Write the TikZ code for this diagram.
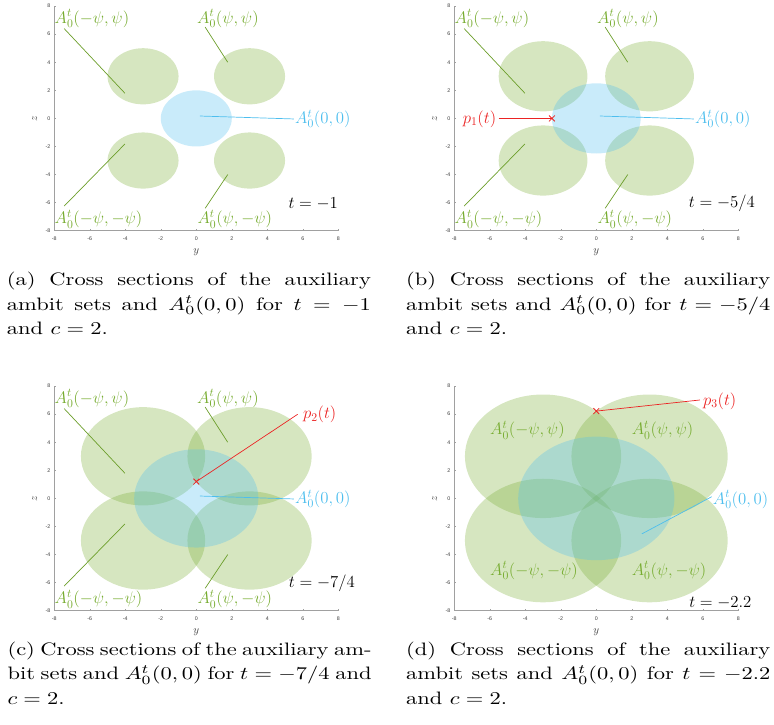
\RequirePackage{fix-cm}
\documentclass[tikz,border=0pt]{standalone}
\usepackage{fontspec}
\usepackage{graphicx}
\usetikzlibrary{shapes.misc}
\newfontfamily\ticksf{Liberation Sans}
\definecolor{mgreen}{RGB}{119,172,48}
\definecolor{mgline}{RGB}{108,158,42}
\definecolor{mblue}{RGB}{77,190,238}
\definecolor{mred}{RGB}{235,35,35}
\definecolor{axgrey}{RGB}{160,160,160}
\definecolor{ticktxt}{RGB}{60,60,60}
\tikzset{
  gfill/.style={fill=mgreen, fill opacity=0.3, draw=none},
  bfill/.style={fill=mblue, fill opacity=0.3, draw=none},
  labfont/.style={inner sep=0pt, anchor=base west, font=\fontsize{16.8}{18}\selectfont},
  glab/.style={labfont, text=mgreen},
  blab/.style={labfont, text=mblue},
  rlab/.style={labfont, text=mred},
  tlab/.style={labfont, text=black, anchor=base east},
  gline/.style={draw=mgline, line width=0.7pt},
  bline/.style={draw=mblue, line width=0.7pt},
  rline/.style={draw=mred, line width=0.7pt},
  xmark/.style={cross out, draw=mred, line width=0.8pt, minimum size=5pt, inner sep=0pt},
  axisline/.style={draw=axgrey, line width=0.6pt},
  ticklab/.style={inner sep=0pt, text=ticktxt, font=\ticksf\fontsize{5.3}{6}\selectfont},
  axlab/.style={inner sep=0pt, text=ticktxt, font=\fontsize{11}{12}\selectfont},
  capn/.style={inner sep=0pt, anchor=base west},
}
\newcommand\blob[4]{\fill[#4] (#1,#2) ellipse [x radius={#3*17.75pt}, y radius={#3*14.04pt}];}
\newcommand\axesof[1]{%
  \draw[axisline] (-8,8) -- (-8,-8) -- (8,-8);
  \foreach \k [count=\c] in {-8,-6,...,8} {
    \draw[axisline] (\k,-8) -- ++(0,2pt);
    \draw[axisline] (-8,\k) -- ++(2pt,0);
    \node[ticklab] (#1x\c) at (\k,-8) [yshift=-7.6pt] {\k};
    \node[ticklab, anchor=east] (#1z\c) at (-8,\k) [xshift=-3.8pt] {\k};
  }
  \node[axlab] (#1ylab) at (0,-9.5) {$y$};
  \node[axlab, rotate=90] (#1zlab) at (-9.1,0) {$z$};
}
\newcommand\mycap[1]{%
  \scalebox{2.25}[1.8]{\parbox[t]{161.8pt}{\fontsize{10}{13.5}\selectfont #1}}}
\begin{document}
\begin{tikzpicture}[x=1pt,y=-1pt]
\useasboundingbox (0,0) rectangle (774,725);

% ---------------- panel (a)
\begin{scope}[shift={(196.3,118.4)}, x=17.75pt, y=14.04pt]
  \blob{-3}{3}{2}{gfill}
  \blob{3}{3}{2}{gfill}
  \blob{-3}{-3}{2}{gfill}
  \blob{3}{-3}{2}{gfill}
  \blob{0}{0}{2}{bfill}
  \axesof{a}
  \coordinate (aUL1) at (-7.44,6.39); \coordinate (aUL2) at (-4.02,1.79);
  \coordinate (aUR1) at (0.5,6.5);    \coordinate (aUR2) at (1.77,4.0);
  \coordinate (aLL1) at (-7.44,-6.24); \coordinate (aLL2) at (-4.02,-1.82);
  \coordinate (aLR1) at (0.5,-6.4);   \coordinate (aLR2) at (1.77,-4.0);
  \coordinate (aC1) at (0.2,0.17);    \coordinate (aC2) at (5.5,-0.04);
  \draw[gline] (aUL1) -- (aUL2);
  \draw[gline] (aUR1) -- (aUR2);
  \draw[gline] (aLL1) -- (aLL2);
  \draw[gline] (aLR1) -- (aLR2);
  \draw[bline] (aC1) -- (aC2);
  \node[glab] (aUL) at (-7.99,6.79) {$A_0^t(-\psi,\psi)$};
  \node[glab] (aUR) at (0.04,6.79) {$A_0^t(\psi,\psi)$};
  \node[glab] (aLL) at (-7.99,-7.52) {$A_0^t(-\psi,-\psi)$};
  \node[glab] (aLR) at (0.06,-7.52) {$A_0^t(\psi,-\psi)$};
  \node[blab] (aC) at (5.56,-0.36) {$A_0^t(0,0)$};
  \node[tlab] (aT) at (7.99,-6.39) {$t=-1$};
\end{scope}

% ---------------- panel (b)
\begin{scope}[shift={(596.3,118.4)}, x=17.75pt, y=14.04pt]
  \blob{-3}{3}{2.5}{gfill}
  \blob{3}{3}{2.5}{gfill}
  \blob{-3}{-3}{2.5}{gfill}
  \blob{3}{-3}{2.5}{gfill}
  \blob{0}{0}{2.5}{bfill}
  \axesof{b}
  \coordinate (bUL1) at (-7.44,6.39); \coordinate (bUL2) at (-4.02,1.79);
  \coordinate (bUR1) at (0.5,6.5);    \coordinate (bUR2) at (1.77,4.0);
  \coordinate (bLL1) at (-7.44,-6.24); \coordinate (bLL2) at (-4.02,-1.82);
  \coordinate (bLR1) at (0.5,-6.4);   \coordinate (bLR2) at (1.77,-4.0);
  \coordinate (bC1) at (0.2,0.17);    \coordinate (bC2) at (5.5,-0.04);
  \coordinate (bP1) at (-5.5,0);
  \draw[gline] (bUL1) -- (bUL2);
  \draw[gline] (bUR1) -- (bUR2);
  \draw[gline] (bLL1) -- (bLL2);
  \draw[gline] (bLR1) -- (bLR2);
  \draw[bline] (bC1) -- (bC2);
  \node[xmark] (bPm) at (-2.5,0) {};
  \draw[rline] (bP1) -- (bPm.center);
  \node[glab] (bUL) at (-7.99,6.79) {$A_0^t(-\psi,\psi)$};
  \node[glab] (bUR) at (0.04,6.79) {$A_0^t(\psi,\psi)$};
  \node[glab] (bLL) at (-7.99,-7.52) {$A_0^t(-\psi,-\psi)$};
  \node[glab] (bLR) at (0.06,-7.52) {$A_0^t(\psi,-\psi)$};
  \node[blab] (bC) at (5.56,-0.36) {$A_0^t(0,0)$};
  \node[rlab] (bP) at (-7.53,-0.33) {$p_1(t)$};
  \node[tlab] (bT) at (8.94,-6.33) {$t=-5/4$};
\end{scope}

% ---------------- panel (c)
\begin{scope}[shift={(196.3,498.4)}, x=17.75pt, y=14.04pt]
  \blob{-3}{3}{3.5}{gfill}
  \blob{3}{3}{3.5}{gfill}
  \blob{-3}{-3}{3.5}{gfill}
  \blob{3}{-3}{3.5}{gfill}
  \blob{0}{0}{3.5}{bfill}
  \axesof{c}
  \coordinate (cUL1) at (-7.44,6.39); \coordinate (cUL2) at (-4.02,1.79);
  \coordinate (cUR1) at (0.5,6.5);    \coordinate (cUR2) at (1.77,4.0);
  \coordinate (cLL1) at (-7.44,-6.24); \coordinate (cLL2) at (-4.02,-1.82);
  \coordinate (cLR1) at (0.5,-6.4);   \coordinate (cLR2) at (1.77,-4.0);
  \coordinate (cC1) at (0.2,0.17);    \coordinate (cC2) at (5.5,-0.04);
  \coordinate (cP1) at (5.71,5.99);
  \draw[gline] (cUL1) -- (cUL2);
  \draw[gline] (cUR1) -- (cUR2);
  \draw[gline] (cLL1) -- (cLL2);
  \draw[gline] (cLR1) -- (cLR2);
  \draw[bline] (cC1) -- (cC2);
  \node[xmark] (cPm) at (0,1.197) {};
  \draw[rline] (cP1) -- (cPm.center);
  \node[glab] (cUL) at (-7.99,6.79) {$A_0^t(-\psi,\psi)$};
  \node[glab] (cUR) at (0.04,6.79) {$A_0^t(\psi,\psi)$};
  \node[glab] (cLL) at (-7.99,-7.52) {$A_0^t(-\psi,-\psi)$};
  \node[glab] (cLR) at (0.06,-7.52) {$A_0^t(\psi,-\psi)$};
  \node[blab] (cC) at (5.56,-0.36) {$A_0^t(0,0)$};
  \node[rlab] (cP) at (6.0,5.66) {$p_2(t)$};
  \node[tlab] (cT) at (8.94,-6.33) {$t=-7/4$};
\end{scope}

% ---------------- panel (d)
\begin{scope}[shift={(596.3,498.4)}, x=17.75pt, y=14.04pt]
  \blob{-3}{3}{4.4}{gfill}
  \blob{3}{3}{4.4}{gfill}
  \blob{-3}{-3}{4.4}{gfill}
  \blob{3}{-3}{4.4}{gfill}
  \blob{0}{0}{4.4}{bfill}
  \axesof{d}
  \coordinate (dC1) at (2.56,-2.53);  \coordinate (dC2) at (6.5,0.12);
  \coordinate (dP1) at (5.84,7.01);
  \draw[bline] (dC1) -- (dC2);
  \node[xmark] (dPm) at (0,6.219) {};
  \draw[rline] (dP1) -- (dPm.center);
  \node[glab] (dUL) at (-5.99,4.52) {$A_0^t(-\psi,\psi)$};
  \node[glab] (dUR) at (1.99,4.52) {$A_0^t(\psi,\psi)$};
  \node[glab] (dLL) at (-5.99,-5.46) {$A_0^t(-\psi,-\psi)$};
  \node[glab] (dLR) at (1.99,-5.46) {$A_0^t(\psi,-\psi)$};
  \node[blab] (dC) at (6.56,-0.4) {$A_0^t(0,0)$};
  \node[rlab] (dP) at (6.0,6.65) {$p_3(t)$};
  \node[tlab] (dT) at (8.75,-7.8) {$t=-2.2$};
\end{scope}

% ---------------- captions
\node[capn] (capa) at (6.7,285.7) {\mycap{(a) Cross sections of the auxiliary\linebreak ambit sets and $A_0^t(0,0)$ for $t=-1$\linebreak and $c=2$.}};
\node[capn] (capb) at (406,285.7) {\mycap{(b) Cross sections of the auxiliary\linebreak ambit sets and $A_0^t(0,0)$ for $t=-5/4$\linebreak and $c=2$.}};
\node[capn] (capc) at (7.3,655.5) {\mycap{(c) Cross sections of the auxiliary am-\linebreak bit sets and $A_0^t(0,0)$ for $t=-7/4$ and\linebreak $c=2$.}};
\node[capn] (capd) at (406,655.5) {\mycap{(d) Cross sections of the auxiliary\linebreak ambit sets and $A_0^t(0,0)$ for $t=-2.2$\linebreak and $c=2$.}};
\end{tikzpicture}
\end{document}
